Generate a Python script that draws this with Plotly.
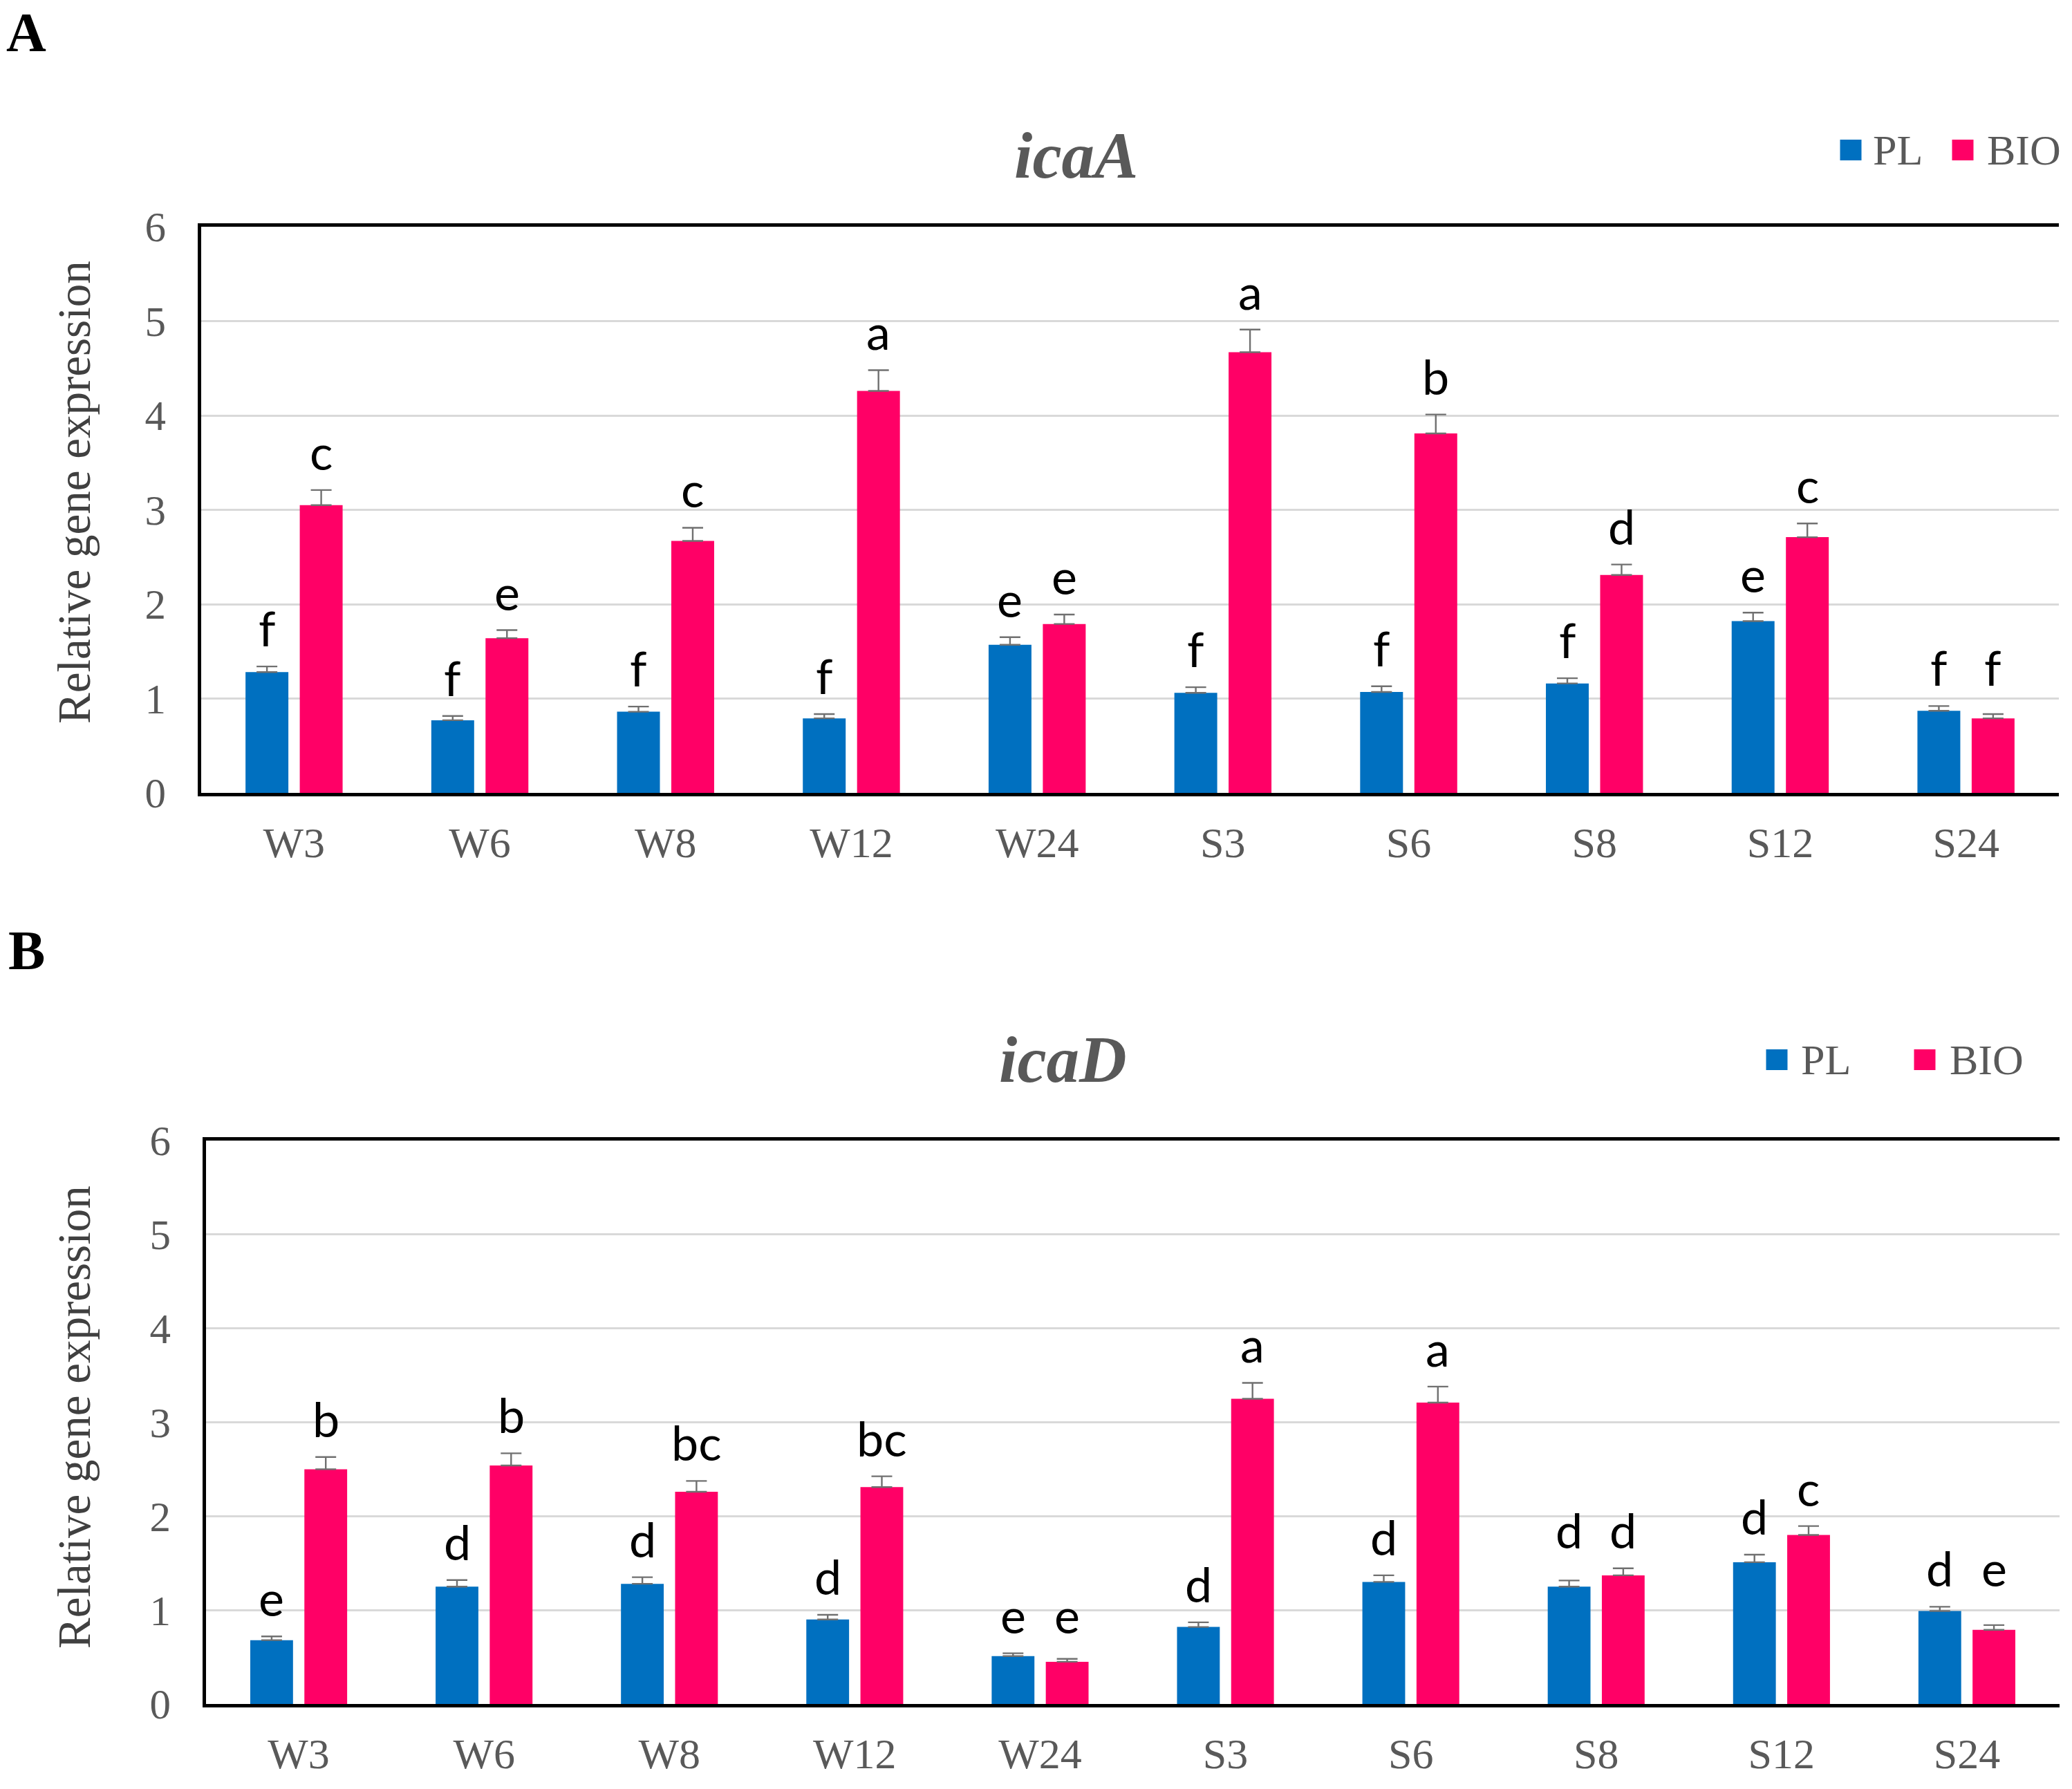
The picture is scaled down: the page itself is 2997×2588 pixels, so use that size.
import plotly.graph_objects as go

# ---------------- data ----------------
categories = ["W3", "W6", "W8", "W12", "W24", "S3", "S6", "S8", "S12", "S24"]
series_names = ["PL", "BIO"]

# Panel A : icaA
icaA_PL = [1.28, 0.77, 0.86, 0.79, 1.57, 1.06, 1.07, 1.16, 1.82, 0.87]
icaA_PL_err = [0.06, 0.045, 0.055, 0.045, 0.08, 0.06, 0.06, 0.055, 0.09, 0.05]
icaA_BIO = [3.05, 1.64, 2.67, 4.26, 1.79, 4.67, 3.81, 2.31, 2.71, 0.79]
icaA_BIO_err = [0.16, 0.085, 0.14, 0.22, 0.10, 0.24, 0.20, 0.11, 0.145, 0.045]
icaA_PL_letters = ["f", "f", "f", "f", "e", "f", "f", "f", "e", "f"]
icaA_BIO_letters = ["c", "e", "c", "a", "e", "a", "b", "d", "c", "f"]

# Panel B : icaD
icaD_PL = [0.68, 1.25, 1.28, 0.90, 0.51, 0.82, 1.30, 1.25, 1.51, 0.99]
icaD_PL_err = [0.04, 0.07, 0.07, 0.05, 0.03, 0.05, 0.07, 0.065, 0.08, 0.045]
icaD_BIO = [2.50, 2.54, 2.26, 2.31, 0.45, 3.25, 3.21, 1.37, 1.80, 0.79]
icaD_BIO_err = [0.13, 0.13, 0.115, 0.115, 0.03, 0.17, 0.17, 0.075, 0.095, 0.05]
icaD_PL_letters = ["e", "d", "d", "d", "e", "d", "d", "d", "d", "d"]
icaD_BIO_letters = ["b", "b", "bc", "bc", "e", "a", "a", "d", "c", "e"]

y_ticks = [0, 1, 2, 3, 4, 5, 6]
panel_labels = ["A", "B"]
gene_titles = ["icaA", "icaD"]
y_title = "Relative gene expression"

# ---------------- style ----------------
W, H = 2997, 2588
C_PL = "#0070C0"
C_BIO = "#FF0066"
GRAY = "#595959"
SERIF = "Liberation Serif, Times New Roman, serif"
SANS = "Lato, Open Sans, sans-serif"
BARGAP = 0.416
BARGROUPGAP = 0.21

def px_x(p):
    return p / W

def px_y(p):
    return 1 - p / H

# panel geometry in pixels (left, right, top(=6), bottom(=0))
panels = [
    dict(l=291, r=2978, t=328, b=1147, title_y=225, title_x=1557, lab_y=47,
         ytitle_y=712, leg=(2677, 2707, 2839, 2872), leg_y=217),
    dict(l=298, r=2979, t=1650, b=2465, title_y=1533, title_x=1537, lab_y=1375,
         ytitle_y=2050, leg=(2570, 2603, 2784, 2818), leg_y=1533),
]

data_sets = [
    (icaA_PL, icaA_PL_err, icaA_BIO, icaA_BIO_err, icaA_PL_letters, icaA_BIO_letters),
    (icaD_PL, icaD_PL_err, icaD_BIO, icaD_BIO_err, icaD_PL_letters, icaD_BIO_letters),
]

fig = go.Figure()
annotations = []
shapes = []

for k, (pl, pl_e, bio, bio_e, pl_l, bio_l) in enumerate(data_sets):
    g = panels[k]
    xa = "x" if k == 0 else "x2"
    ya = "y" if k == 0 else "y2"
    for name, vals, errs, col in [("PL", pl, pl_e, C_PL), ("BIO", bio, bio_e, C_BIO)]:
        fig.add_trace(go.Bar(
            x=categories, y=vals, name=name, xaxis=xa, yaxis=ya,
            marker=dict(color=col, line=dict(width=0)),
            error_y=dict(type="data", array=errs, arrayminus=[0] * len(errs),
                         symmetric=False, color="#707070", thickness=2.4, width=15),
            showlegend=False,
        ))
    # significance letters
    half = (1 - BARGAP) / 4
    for i in range(len(categories)):
        top_pl = pl[i] + pl_e[i]
        top_bio = bio[i] + bio_e[i]
        if abs(top_pl - top_bio) < 0.22:
            top_pl = top_bio = max(top_pl, top_bio)
        for off, top, txt in [(-half, top_pl, pl_l[i]), (half, top_bio, bio_l[i])]:
            annotations.append(dict(
                x=i + off, y=top, xref=xa, yref=ya, text=txt, showarrow=False,
                xanchor="center", yanchor="bottom", yshift=12,
                font=dict(family=SANS, size=70, color="#000000"),
            ))
    # panel letter
    annotations.append(dict(
        x=px_x(38), y=px_y(g["lab_y"]), xref="paper", yref="paper",
        text="<b>%s</b>" % panel_labels[k], showarrow=False,
        xanchor="center", yanchor="middle",
        font=dict(family=SERIF, size=80, color="#000000"),
    ))
    # gene title
    annotations.append(dict(
        x=px_x(g["title_x"]), y=px_y(g["title_y"]), xref="paper", yref="paper",
        text="<b><i>%s</i></b>" % gene_titles[k], showarrow=False,
        xanchor="center", yanchor="middle",
        font=dict(family=SERIF, size=95, color=GRAY),
    ))
    # y title
    annotations.append(dict(
        x=px_x(107), y=px_y(g["ytitle_y"]), xref="paper", yref="paper",
        text=y_title, showarrow=False, textangle=-90,
        xanchor="center", yanchor="middle",
        font=dict(family=SERIF, size=67, color="#404040"),
    ))
    # legend (manual)
    sq_pl, tx_pl, sq_bio, tx_bio = g["leg"]
    ly = g["leg_y"]
    for sq, tx, col, nm in [(sq_pl, tx_pl, C_PL, series_names[0]), (sq_bio, tx_bio, C_BIO, series_names[1])]:
        shapes.append(dict(type="rect", xref="paper", yref="paper",
                           x0=px_x(sq - 15.5), x1=px_x(sq + 15.5),
                           y0=px_y(ly + 15), y1=px_y(ly - 15),
                           fillcolor=col, line=dict(width=0)))
        annotations.append(dict(
            x=px_x(tx), y=px_y(ly), xref="paper", yref="paper", text=nm,
            showarrow=False, xanchor="left", yanchor="middle",
            font=dict(family=SERIF, size=62, color=GRAY),
        ))

axis_common_x = dict(
    type="category", showline=True, linecolor="#000000", linewidth=4.5, mirror=True,
    showgrid=False, zeroline=False, ticks="", ticklabelstandoff=14, automargin=False,
    tickfont=dict(family=SERIF, size=62, color=GRAY),
)
axis_common_y = dict(
    range=[0, 6], tickvals=y_ticks, showline=True, linecolor="#000000", linewidth=4.5,
    mirror=False, showgrid=True, gridcolor="#D9D9D9", gridwidth=3, zeroline=False,
    ticks="", ticklabelstandoff=34, fixedrange=True, automargin=False,
    tickfont=dict(family=SERIF, size=61, color=GRAY),
)

p0, p1 = panels
fig.update_layout(
    width=W, height=H, margin=dict(l=0, r=0, t=0, b=0, pad=0, autoexpand=False),
    paper_bgcolor="white", plot_bgcolor="white",
    barmode="group", bargap=BARGAP, bargroupgap=BARGROUPGAP,
    showlegend=False,
    xaxis=dict(domain=[px_x(p0["l"]), px_x(p0["r"])], anchor="y", **axis_common_x),
    yaxis=dict(domain=[px_y(p0["b"]), px_y(p0["t"])], anchor="x", **axis_common_y),
    xaxis2=dict(domain=[px_x(p1["l"]), px_x(p1["r"])], anchor="y2", **axis_common_x),
    yaxis2=dict(domain=[px_y(p1["b"]), px_y(p1["t"])], anchor="x2", **axis_common_y),
    annotations=annotations,
    shapes=shapes,
)

fig.write_html("out.html", config={"displayModeBar": False},
               post_script="document.body.style.margin='0';")
